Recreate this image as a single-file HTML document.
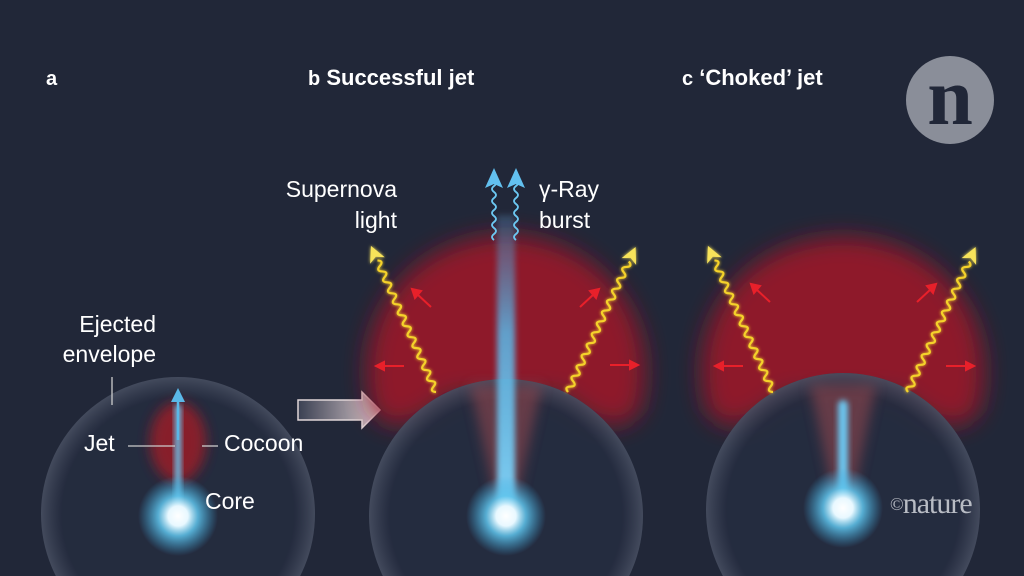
<!DOCTYPE html>
<html><head><meta charset="utf-8"><style>
html,body{margin:0;padding:0;background:#212738;overflow:hidden;width:1024px;height:576px}
svg{display:block}
</style></head><body>
<svg width="1024" height="576" viewBox="0 0 1024 576" xmlns="http://www.w3.org/2000/svg" style="font-family:'Liberation Sans',sans-serif;overflow:hidden">
<defs>
<filter id="b12" x="-50%" y="-50%" width="200%" height="200%"><feGaussianBlur stdDeviation="12"/></filter>
<filter id="b6" x="-50%" y="-50%" width="200%" height="200%"><feGaussianBlur stdDeviation="6"/></filter>
<filter id="b3" x="-50%" y="-50%" width="200%" height="200%"><feGaussianBlur stdDeviation="3"/></filter>
<filter id="glow" x="-50%" y="-50%" width="200%" height="200%"><feGaussianBlur stdDeviation="1.5" result="g"/><feMerge><feMergeNode in="g"/><feMergeNode in="SourceGraphic"/></feMerge></filter>
<radialGradient id="core"><stop offset="0" stop-color="#ffffff"/><stop offset="0.25" stop-color="#e8f8ff"/><stop offset="0.5" stop-color="#5fc4ec" stop-opacity="0.85"/><stop offset="1" stop-color="#3aa8dc" stop-opacity="0"/></radialGradient>
<radialGradient id="sph" cx="0.5" cy="0.5" r="0.5"><stop offset="0.85" stop-color="#283045" stop-opacity="0.5"/><stop offset="1" stop-color="#5a6275" stop-opacity="0.6"/></radialGradient>
<linearGradient id="jetb" x1="0" y1="1" x2="0" y2="0"><stop offset="0" stop-color="#7fd0f5"/><stop offset="0.6" stop-color="#5ab6e6" stop-opacity="0.85"/><stop offset="1" stop-color="#4a90c0" stop-opacity="0.3"/></linearGradient>
<linearGradient id="arr" x1="0" x2="1"><stop offset="0" stop-color="#3a4052"/><stop offset="1" stop-color="#d8c8cc"/></linearGradient>
<path id="wave" d="M0 0 q3 -6 6 0 t6 0 t6 0 t6 0 t6 0 t6 0 t6 0 t6 0 t6 0 t6 0 t6 0 t6 0 t6 0 t6 0 t6 0 t6 0 t6 0 t6 0 t6 0 t6 0 t6 0 t6 0 t6 0 t6 0"/>
<g id="ray">
<use href="#wave" fill="none" stroke="#f5d22a" stroke-width="2.2"/>
<polygon points="160,0 144,-8 148,0 144,8" fill="#f7e35a"/>
</g>
</defs>

<text x="46" y="85" font-size="20" font-weight="bold" fill="#fff">a</text>
<text x="308" y="85" font-size="22" font-weight="bold" fill="#fff"><tspan font-size="20">b</tspan>  Successful jet</text>
<text x="682" y="85" font-size="22" font-weight="bold" fill="#fff"><tspan font-size="20">c</tspan>  ‘Choked’ jet</text>

<circle cx="950" cy="100" r="44" fill="#8a8e99"/>
<text x="950" y="124" font-size="82" font-weight="bold" style="font-family:'Liberation Serif',serif" fill="#212738" text-anchor="middle">n</text>

<!-- PANEL A -->
<circle cx="178" cy="514" r="137" fill="url(#sph)"/>
<ellipse cx="178" cy="442" rx="28" ry="40" fill="#a01c28" opacity="0.8" filter="url(#b6)"/>
<rect x="175" y="405" width="6" height="110" fill="#6cc6ef" filter="url(#b3)"/>
<line x1="178" y1="440" x2="178" y2="398" stroke="#5ab8e8" stroke-width="2.5"/>
<polygon points="178,388 171,402 185,402" fill="#5ab8e8"/>
<circle cx="178" cy="516" r="40" fill="url(#core)"/>
<line x1="112" y1="377" x2="112" y2="405" stroke="#ccc" stroke-width="1.3"/>
<line x1="128" y1="446" x2="175" y2="446" stroke="#ccc" stroke-width="1.3"/>
<line x1="202" y1="446" x2="218" y2="446" stroke="#ccc" stroke-width="1.3"/>
<text x="156" y="332" font-size="23" fill="#fff" text-anchor="end">Ejected</text>
<text x="156" y="362" font-size="23" fill="#fff" text-anchor="end">envelope</text>
<text x="84" y="451" font-size="23" fill="#fff">Jet</text>
<text x="224" y="451" font-size="23" fill="#fff">Cocoon</text>
<text x="205" y="509" font-size="23" fill="#fff">Core</text>

<polygon points="298,400 362,400 362,392 380,410 362,428 362,420 298,420" fill="url(#arr)" stroke="#e0d6d8" stroke-width="1.5"/>

<!-- PANEL B -->
<g filter="url(#b12)">
<path d="M372 410 C350 330 400 240 506 235 C612 240 662 330 640 410 C620 440 590 420 560 395 L452 395 C422 420 392 440 372 410Z" fill="#9a1b2a" opacity="0.9"/>
</g>
<circle cx="506" cy="516" r="137" fill="#222839" opacity="0.8"/>
<circle cx="506" cy="516" r="137" fill="url(#sph)"/>
<polygon points="470,385 542,385 515,505 497,505" fill="#9a4a50" opacity="0.55" filter="url(#b6)"/>
<rect x="497" y="215" width="18" height="295" fill="url(#jetb)" filter="url(#b3)"/>
<circle cx="506" cy="516" r="40" fill="url(#core)"/>
<g fill="none" stroke="#6cc8f2" stroke-width="1.8">
<path d="M494 240 q-4 -3 0 -6 t0 -6 t0 -6 t0 -6 t0 -6 t0 -6 t0 -6 t0 -6 t0 -6 t0 -6 t0 -6"/>
<path d="M516 240 q-4 -3 0 -6 t0 -6 t0 -6 t0 -6 t0 -6 t0 -6 t0 -6 t0 -6 t0 -6 t0 -6 t0 -6"/>
</g>
<polygon points="494,168 485,188 494,184 503,188" fill="#62c0ef"/>
<polygon points="516,168 507,188 516,184 525,188" fill="#62c0ef"/>
<g stroke="#e8202a" stroke-width="2" fill="#e8202a">
<line x1="404" y1="366" x2="382" y2="366"/><polygon points="376,366 384,362 384,370"/>
<line x1="431" y1="307" x2="417" y2="294"/><polygon points="412,289 421,291 415,298"/>
<line x1="580" y1="307" x2="594" y2="294"/><polygon points="599,289 590,291 596,298"/>
<line x1="610" y1="365" x2="632" y2="365"/><polygon points="638,365 630,361 630,369"/>
</g>
<text x="397" y="197" font-size="23" fill="#fff" text-anchor="end">Supernova</text>
<text x="397" y="228" font-size="23" fill="#fff" text-anchor="end">light</text>
<text x="539" y="197" font-size="23" fill="#fff">γ-Ray</text>
<text x="539" y="228" font-size="23" fill="#fff">burst</text>

<!-- PANEL C -->
<g filter="url(#b12)">
<path d="M707 410 C685 330 735 240 843 237 C951 240 1001 330 979 410 C959 440 929 420 899 395 L787 395 C757 420 727 440 707 410Z" fill="#9a1b2a" opacity="0.9"/>
</g>
<g stroke="#e8202a" stroke-width="2" fill="#e8202a">
<line x1="743" y1="366" x2="721" y2="366"/><polygon points="715,366 723,362 723,370"/>
<line x1="770" y1="302" x2="756" y2="289"/><polygon points="751,284 760,286 754,293"/>
<line x1="917" y1="302" x2="931" y2="289"/><polygon points="936,284 927,286 933,293"/>
<line x1="946" y1="366" x2="968" y2="366"/><polygon points="974,366 966,362 966,370"/>
</g>
<circle cx="843" cy="510" r="137" fill="#222839" opacity="0.8"/>
<circle cx="843" cy="510" r="137" fill="url(#sph)"/>
<polygon points="810,385 876,385 852,500 834,500" fill="#9a4a50" opacity="0.55" filter="url(#b6)"/>
<rect x="838" y="400" width="10" height="105" rx="5" fill="#6cc6ef" filter="url(#b3)"/>
<circle cx="843" cy="508" r="40" fill="url(#core)"/>

<g filter="url(#glow)">
<use href="#ray" transform="translate(436,392) rotate(-114)"/>
<use href="#ray" transform="translate(568,392) rotate(-65)"/>
<use href="#ray" transform="translate(773,392) rotate(-114)"/>
<use href="#ray" transform="translate(908,392) rotate(-65)"/>
</g>

<text x="890" y="513" font-size="30" style="font-family:'Liberation Serif',serif" fill="#b8bcc4" letter-spacing="-1"><tspan font-size="18" dy="-3">©</tspan><tspan dy="3">nature</tspan></text>
</svg>
</body></html>
